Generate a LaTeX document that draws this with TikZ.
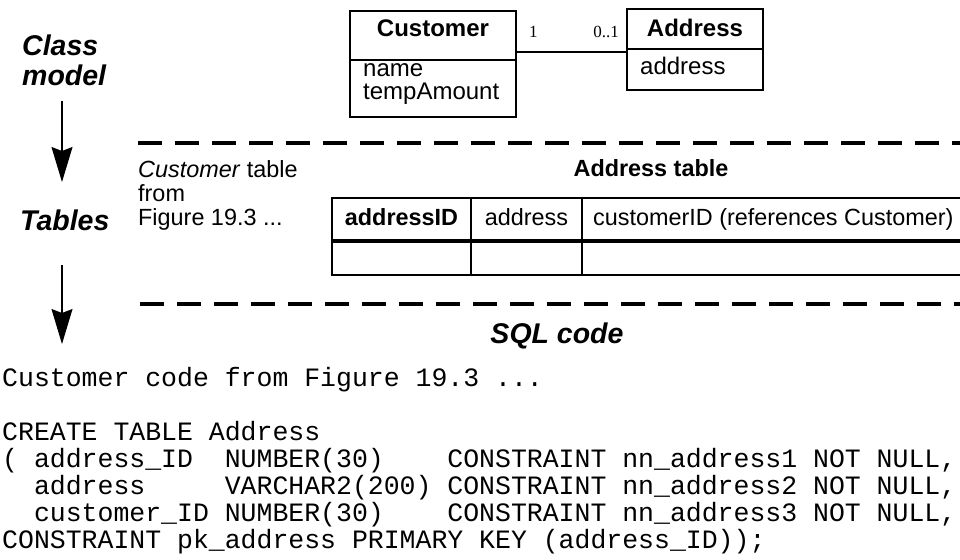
\documentclass[tikz,border=0pt]{standalone}
\usepackage{fontspec}
\setmainfont{Liberation Sans}
\setmonofont{Liberation Mono}
\newfontfamily\multfont{Liberation Serif}
\usetikzlibrary{arrows.meta}

\begin{document}
\begin{tikzpicture}[x=1pt, y=-1pt,
  stage/.style={font=\fontsize{28.5}{30}\selectfont\bfseries\itshape, inner sep=0pt, anchor=base west},
  umltxt/.style={font=\fontsize{24}{26}\selectfont, inner sep=0pt},
  tbltxt/.style={font=\fontsize{23.4}{25}\selectfont, inner sep=0pt},
  mult/.style={font=\multfont\fontsize{17}{18}\selectfont, inner sep=0pt},
  codeln/.style={font=\ttfamily\fontsize{26.5}{27}\selectfont\frenchspacing, inner sep=0pt, anchor=base west},
  thinrule/.style={line width=1.2pt},
  keyrule/.style={line width=4.5pt},
  sepline/.style={line width=4.5pt, dash pattern=on 24pt off 13pt},
  flow/.style={line width=1.2pt, -{Stealth[length=35pt, width=21pt, inset=4pt]}},
  box/.style={draw, line width=1.2pt, inner sep=0pt, outer sep=0pt, anchor=north west}
]
\useasboundingbox (0,0) rectangle (960,559);
\fill[white] (0,0) rectangle (960,559);

% ---- stage labels on the left ----
\node[stage] (classA) at (22,56) {Class};
\node[stage] (classB) at (22,86) {model};
\node[stage] (tables) at (20,230) {Tables};
\node[stage, anchor=base] (sqlhead) at (557,343) {SQL code};

% ---- flow arrows between the stages ----
\coordinate (a1s) at (62,101);
\coordinate (a1e) at (62,182);
\coordinate (a2s) at (62,265);
\coordinate (a2e) at (62,344);
\draw[flow] (a1s) -- (a1e);
\draw[flow] (a2s) -- (a2e);

% ---- class model ----
\node[box, minimum width=166pt, minimum height=49pt] (custhead) at (350,11) {};
\node[box, minimum width=166pt, minimum height=57pt] (custattr) at (custhead.south west) {};
\node[box, minimum width=136pt, minimum height=40pt] (addrhead) at (627,9) {};
\node[box, minimum width=136pt, minimum height=41pt] (addrattr) at (addrhead.south west) {};

\node[umltxt, anchor=base] (custtitle) at (433,37) {\bfseries Customer};
\node[umltxt, anchor=base west] (custa1) at (363,77) {name};
\node[umltxt, anchor=base west] (custa2) at (363,100) {tempAmount};
\node[umltxt, anchor=base] (addrtitle) at (695,37) {\bfseries Address};
\node[umltxt, anchor=base west] (addra1) at (640,75) {address};

\coordinate (assocy) at (0,52);
\draw[thinrule] (custhead.east |- assocy) -- (addrattr.west |- assocy);
\node[mult, anchor=base west] (multc) at (529,38) {1};
\node[mult, anchor=base east] (multa) at (619,38) {0..1};

% ---- separators ----
\draw[sepline] (138,143) -- (975,143);
\draw[sepline] (140,304) -- (975,304);

% ---- tables ----
\node[tbltxt, anchor=base west] (ctab1) at (138,177) {\textit{Customer} table};
\node[tbltxt, anchor=base west] (ctab2) at (138,201) {from};
\node[tbltxt, anchor=base west] (ctab3) at (138,225) {Figure 19.3 ...};
\node[tbltxt, anchor=base] (atab) at (651,176) {\bfseries Address table};

\node[box, minimum width=643pt, minimum height=77pt] (addrtbl) at (332,198) {};
\draw[thinrule] (471,198) -- (471,275);
\draw[thinrule] (582,198) -- (582,275);
\draw[keyrule] (332,241) -- (975,241);
\node[tbltxt, anchor=base] (colid) at (401.5,225) {\bfseries addressID};
\node[tbltxt, anchor=base] (coladdr) at (526.5,225) {address};
\node[tbltxt, anchor=base west] (colcust) at (593,225) {customerID (references Customer)};

% ---- SQL listing ----
\node[codeln] (code1) at (2,386) {Customer code from Figure 19.3 ...};
\node[codeln] (code2) at (2,440) {CREATE TABLE Address};
\node[codeln] (code3) at (2,467) {( address\_ID~~NUMBER(30)~~~~CONSTRAINT nn\_address1 NOT NULL,};
\node[codeln] (code4) at (2,494) {~~address~~~~~VARCHAR2(200) CONSTRAINT nn\_address2 NOT NULL,};
\node[codeln] (code5) at (2,521) {~~customer\_ID NUMBER(30)~~~~CONSTRAINT nn\_address3 NOT NULL,};
\node[codeln] (code6) at (2,548) {CONSTRAINT pk\_address PRIMARY KEY (address\_ID));};
\end{tikzpicture}
\end{document}
